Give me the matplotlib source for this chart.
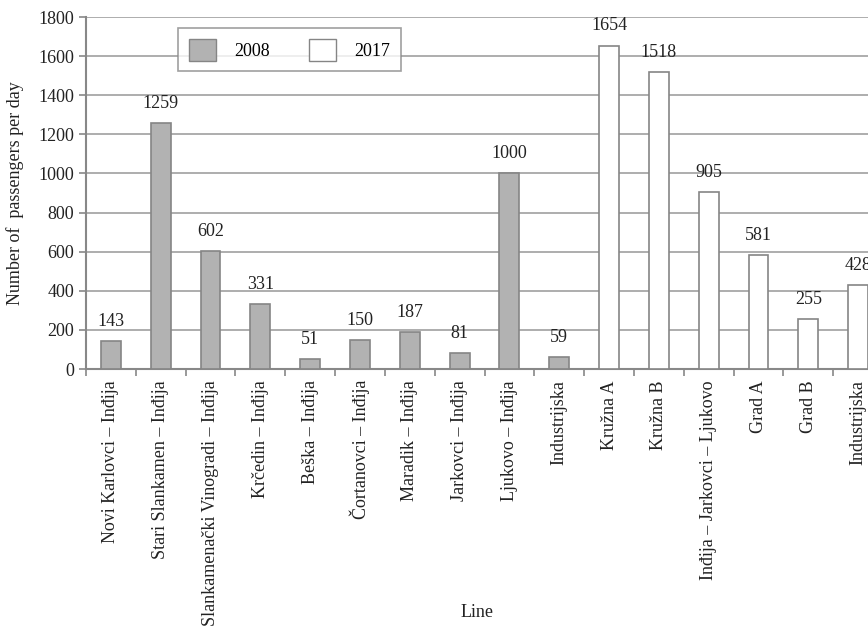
import numpy as np
import matplotlib.pyplot as plt
from matplotlib.patches import Patch

plt.rcParams['font.family'] = ['Liberation Serif', 'DejaVu Serif']

lineas = ["Novi Karlovci – Inđija", "Stari Slankamen – Inđija",
          "Slankamenački Vinogradi – Inđija", "Krčedin – Inđija",
          "Beška – Inđija", "Čortanovci – Inđija", "Maradik – Inđija",
          "Jarkovci – Inđija", "Ljukovo – Inđija", "Industrijska",
          "Kružna A", "Kružna B", "Inđija – Jarkovci – Ljukovo",
          "Grad A", "Grad B", "Industrijska"]
pasajeros = [143, 1259, 602, 331, 51, 150, 187, 81, 1000, 59,
             1654, 1518, 905, 581, 255, 428]
anio = ["2008"] * 10 + ["2017"] * 6

colores = {"2008": "#b2b2b2", "2017": "white"}
borde = "#858585"
texto = "#222222"

fig = plt.figure(figsize=(8.68, 6.29), dpi=100)
ax = fig.add_axes([86 / 868, 260 / 629, 797 / 868, 352 / 629])

x = np.arange(len(lineas))
ax.bar(x, pasajeros, width=0.4, color=[colores[a] for a in anio],
       edgecolor=borde, linewidth=1.2, zorder=3)

for xi, v in zip(x, pasajeros):
    ax.annotate(str(v), (xi, v), xytext=(0, 8), textcoords="offset points",
                ha="center", va="bottom", fontsize=13, color=texto)

ax.set_xlim(-0.5, len(lineas) - 0.5)
ax.set_ylim(0, 1800)
ax.set_yticks(range(0, 1801, 200))
ax.grid(axis="y", color="#a0a0a0", linewidth=1.2, zorder=0)
ax.set_axisbelow(True)

ax.set_xticks(x)
ax.set_xticklabels(lineas, rotation=90, fontsize=13, color=texto)
ax.set_xticks(np.arange(-0.5, len(lineas), 1), minor=True)
ax.tick_params(axis="x", which="major", length=0, pad=8)
ax.tick_params(axis="x", which="minor", length=5, width=1.2, color="#888888")
ax.tick_params(axis="y", length=5, width=1.2, color="#888888",
               labelsize=13, labelcolor=texto)

for s in ["top", "right"]:
    ax.spines[s].set_visible(False)
for s in ["left", "bottom"]:
    ax.spines[s].set_color("#888888")
    ax.spines[s].set_linewidth(1.5)

ax.set_ylabel("Number of  passengers per day", fontsize=13, color=texto, labelpad=10)
ax.set_xlabel("Line", fontsize=13, color=texto)
ax.xaxis.set_label_coords(0.49, -0.667)

handles = [Patch(facecolor=colores["2008"], edgecolor=borde, label="2008"),
           Patch(facecolor=colores["2017"], edgecolor=borde, label="2017")]
leg = ax.legend(handles=handles, ncol=2, loc="upper left",
                bbox_to_anchor=(0.104, 0.995), fontsize=13,
                frameon=True, fancybox=False, edgecolor="#888888",
                handlelength=1.5, handleheight=1.5, columnspacing=2.2,
                borderpad=0.6, handletextpad=1.0)
leg.get_frame().set_linewidth(1.2)

plt.savefig("out.png", dpi=100)
